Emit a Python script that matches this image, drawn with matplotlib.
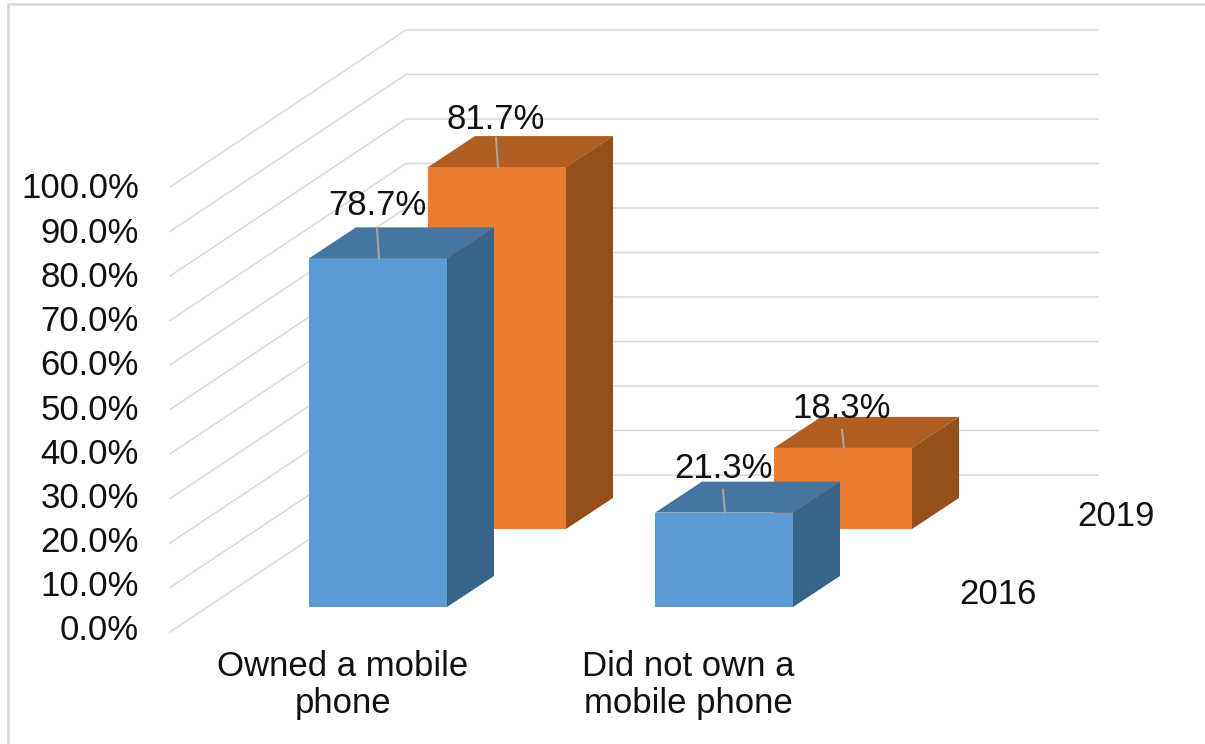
import matplotlib
matplotlib.use('Agg')
import matplotlib.pyplot as plt
from matplotlib.patches import Polygon

plt.rcParams['font.family'] = ['Liberation Sans', 'DejaVu Sans']

categories = ['Owned a mobile\nphone', 'Did not own a\nmobile phone']
years = ['2016', '2019']
values_2016 = [78.7, 21.3]
values_2019 = [81.7, 18.3]
ticks = [0, 10, 20, 30, 40, 50, 60, 70, 80, 90, 100]

# colours: front, top, side
blue = ['#5b9bd5', '#46759f', '#39648a']
orange = ['#ed7d31', '#b15e22', '#954f1b']

# pixel layout of the fake 3d box
px_per_pct = 4.43
bar_w = 138
depth = (47, -31)
base_y = 607
cat_x = [309, 655]
cat_step = (119, -78)
fs = 25

fig = plt.figure(figsize=(12.05, 7.44), dpi=100)
ax = fig.add_axes([0, 0, 1, 1])
ax.set_xlim(0, 1205)
ax.set_ylim(744, 0)
ax.axis('off')

# outer frame
ax.plot([8, 8, 1205], [744, 4, 4], color='#d9d9d9', lw=2)

# side wall and back wall gridlines
for t in ticks:
    y0 = 632 - t * 4.45
    y1 = 475 - t * 4.45
    ax.plot([170, 406, 1098], [y0, y1, y1], color='#d9d9d9', lw=1.1, zorder=1)
    ax.text(139, 631 - t * 4.42, '%.1f%%' % t, ha='right', va='center', fontsize=fs, color='#111111')


def box(x, base, v, cols, z):
    top = base - v * px_per_pct
    dx, dy = depth
    ax.add_patch(Polygon([(x, base), (x + bar_w, base), (x + bar_w, top), (x, top)], fc=cols[0], ec='none', zorder=z))
    ax.add_patch(Polygon([(x, top), (x + bar_w, top), (x + bar_w + dx, top + dy), (x + dx, top + dy)], fc=cols[1], ec='none', zorder=z))
    ax.add_patch(Polygon([(x + bar_w, base), (x + bar_w + dx, base + dy), (x + bar_w + dx, top + dy), (x + bar_w, top)], fc=cols[2], ec='none', zorder=z))
    return top


def label(x, top, v, gap, lift):
    # leader line and value text
    mid = x + bar_w / 2 + 1
    ax.plot([mid, mid - 2], [top, top - gap], color='#a6a6a6', lw=1.5, zorder=6)
    ax.text(mid - 2, top - lift, '%.1f%%' % v, ha='center', va='center', fontsize=fs, color='#111111', zorder=7)


for i in range(2):
    x2 = cat_x[i] + cat_step[0]
    y2 = base_y + cat_step[1]
    top2 = box(x2, y2, values_2019[i], orange, 3)
    top1 = box(cat_x[i], base_y, values_2016[i], blue, 4)
    label(x2, top2, values_2019[i], 29 if i == 0 else 18, 48 if i == 0 else 39)
    label(cat_x[i], top1, values_2016[i], 30 if i == 0 else 23, 53 if i == 0 else 44)
    ax.text(cat_x[i] + 34 if i == 0 else cat_x[i] + 33, 685, categories[i], ha='center', va='center',
            fontsize=fs, color='#111111', linespacing=1.13)

ax.text(998, 594, years[0], ha='center', va='center', fontsize=fs, color='#111111')
ax.text(1116, 516, years[1], ha='center', va='center', fontsize=fs, color='#111111')

fig.savefig('out.png', dpi=100)
